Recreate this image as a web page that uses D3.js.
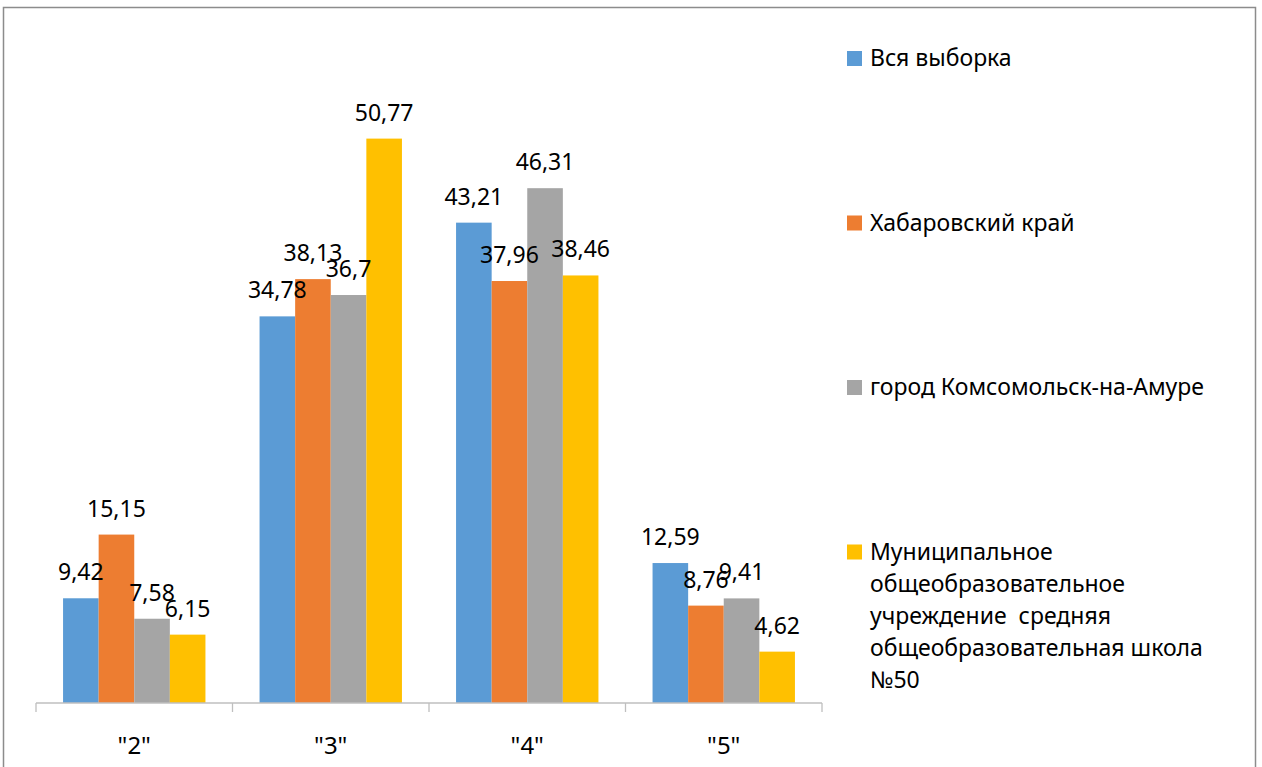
<!DOCTYPE html>
<html>
<head>
<meta charset="utf-8">
<script src="https://cdn.jsdelivr.net/npm/d3@7"></script>
<style>
  body { margin: 0; background: #fff; }
  text { font-family: "Noto Sans", "Open Sans", sans-serif; fill: #000; }
</style>
</head>
<body>
<div id="chart"></div>
<script>
// data
var categories = ['"2"', '"3"', '"4"', '"5"']
var seriesNames = ["Вся выборка", "Хабаровский край", "город Комсомольск-на-Амуре",
  "Муниципальное общеобразовательное учреждение  средняя общеобразовательная школа №50"]
var legendLines = [
  ["Вся выборка"],
  ["Хабаровский край"],
  ["город Комсомольск-на-Амуре"],
  ["Муниципальное", "общеобразовательное", "учреждение  средняя", "общеобразовательная школа", "№50"]
]
var vsyaVyborka = [9.42, 34.78, 43.21, 12.59]
var khabarovsk = [15.15, 38.13, 37.96, 8.76]
var komsomolsk = [7.58, 36.7, 46.31, 9.41]
var school50 = [6.15, 50.77, 38.46, 4.62]
var colors = ["#5B9BD5", "#ED7D31", "#A5A5A5", "#FFC000"]

var seriesValues = [vsyaVyborka, khabarovsk, komsomolsk, school50]

var width = 1262, height = 767

var svg = d3.select("#chart").append("svg")
  .attr("width", width)
  .attr("height", height)

// chart frame
svg.append("rect")
  .attr("x", 3.5).attr("y", 7.5)
  .attr("width", 1252).attr("height", 780)
  .attr("fill", "none")
  .attr("stroke", "#8c8c8c")
  .attr("stroke-width", 1.5)

var x0 = d3.scaleBand()
  .domain(categories)
  .range([36, 822])

var x1 = d3.scaleBand()
  .domain(d3.range(seriesValues.length))
  .range([0, x0.bandwidth()])
  .paddingOuter(0.76)

var y = d3.scaleLinear()
  .domain([0, 60])
  .range([703, 36])

var fmt = function (v) { return String(v).replace(".", ",") }

var groups = svg.append("g").selectAll("g")
  .data(categories)
  .join("g")
  .attr("transform", d => `translate(${x0(d)},0)`)

groups.selectAll("rect")
  .data((c, ci) => seriesValues.map((s, si) => ({ si: si, v: s[ci] })))
  .join("rect")
  .attr("x", d => x1(d.si))
  .attr("width", x1.bandwidth())
  .attr("y", d => y(d.v))
  .attr("height", d => y(0) - y(d.v))
  .attr("fill", d => colors[d.si])

// value labels (they overlap a little in the original too)
groups.selectAll("text.val")
  .data((c, ci) => seriesValues.map((s, si) => ({ si: si, v: s[ci] })))
  .join("text")
  .attr("class", "val")
  .attr("x", d => x1(d.si) + x1.bandwidth() / 2)
  .attr("y", d => y(d.v) - 18)
  .attr("text-anchor", "middle")
  .style("font-size", "23px")
  .text(d => fmt(d.v))

// x axis
var axis = svg.append("g")
  .attr("transform", `translate(0,${y(0)})`)

axis.append("line")
  .attr("x1", x0.range()[0]).attr("x2", x0.range()[1])
  .attr("stroke", "#bfbfbf").attr("stroke-width", 1.3)

axis.selectAll("line.tick")
  .data(categories.map(c => x0(c)).concat([x0.range()[1]]))
  .join("line")
  .attr("class", "tick")
  .attr("x1", d => d).attr("x2", d => d)
  .attr("y1", 0).attr("y2", 9)
  .attr("stroke", "#bfbfbf").attr("stroke-width", 1.3)

axis.selectAll("text")
  .data(categories)
  .join("text")
  .attr("x", d => x0(d) + x0.bandwidth() / 2)
  .attr("y", 51)
  .attr("text-anchor", "middle")
  .style("font-size", "24px")
  .text(d => d)

// legend
var legend = svg.append("g").selectAll("g")
  .data(legendLines)
  .join("g")
  .attr("transform", (d, i) => `translate(847,${58 + i * 164.5})`)

legend.append("rect")
  .attr("x", 0).attr("y", -7)
  .attr("width", 15).attr("height", 15)
  .attr("fill", (d, i) => colors[i])

legend.append("text")
  .attr("x", 23)
  .attr("y", 8)
  .style("font-size", "23px")
  .style("white-space", "pre")
  .selectAll("tspan")
  .data(d => d)
  .join("tspan")
  .attr("x", 23)
  .attr("dy", (d, i) => i === 0 ? 0 : 32)
  .text(d => d)
</script>
</body>
</html>
